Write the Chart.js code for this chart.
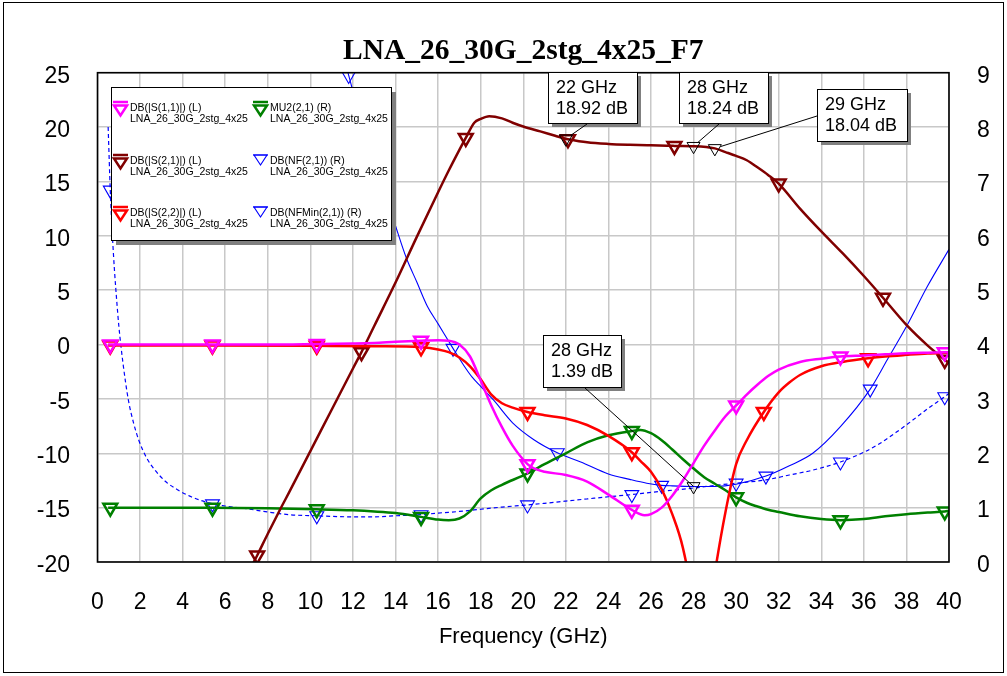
<!DOCTYPE html>
<html>
<head>
<meta charset="utf-8">
<script src="https://cdn.jsdelivr.net/npm/chart.js@4.4.1/dist/chart.umd.min.js"></script>
<style>
  html, body { margin: 0; padding: 0; background: #ffffff; }
  canvas { display: block; }
</style>
</head>
<body>
<canvas id="chart" width="1007" height="676"></canvas>
<script>
// ---- measured traces (frequency in GHz) ----
const freqS11 = [0.5,0.6,2,4,5.4,8,10.3,12,13,14,15.2,16,16.5,17,17.5,18,18.5,19,19.5,20.2,20.5,21,22,23,24,25.1,25.7,26,26.5,27,27.5,28,28.5,29,29.5,30,30.5,31,31.5,32,33,34,34.9,36,37,38,39,39.8,40];
const dbS11   = [0,0,0,0,0,0,0.05,0.1,0.15,0.25,0.35,0.4,0.35,0,-1.1,-3.3,-5.6,-7.6,-9.3,-11.0,-11.4,-11.7,-12.0,-12.6,-13.8,-15.2,-15.7,-15.6,-15.0,-13.9,-12.5,-10.9,-9.3,-7.9,-6.6,-5.6,-4.6,-3.7,-2.9,-2.3,-1.6,-1.3,-1.1,-1.0,-0.9,-0.8,-0.75,-0.72,-0.7];
const markS11 = [0.6,5.4,10.3,15.2,20.2,25.1,30,34.9,39.8];

const freqS21 = [7,7.5,8,8.65,9,10,11,12,12.4,13,14,15,16,16.5,17,17.3,17.7,18,18.4,19,19.5,20,20.8,21.5,22,22.1,23,24,25,26,27,27.1,28,29,29.5,30,30.5,31,31.5,32,33,34,35,36,36.9,38,39,39.8,40];
const dbS21   = [-21.3,-19.4,-17.4,-14.9,-13.6,-9.8,-6.0,-2.2,-0.7,1.7,5.7,9.9,14.0,16.0,17.9,19.0,20.4,20.75,21.0,20.8,20.4,20.05,19.6,19.2,18.92,18.88,18.6,18.45,18.37,18.32,18.28,18.27,18.24,18.04,17.7,17.35,16.95,16.3,15.6,14.8,12.5,10.4,8.4,6.3,4.3,1.8,-0.1,-1.4,-1.7];
const markS21 = [7.5,12.4,17.3,22.1,27.1,32,36.9,39.8];

const freqS22 = [0.5,0.6,5.4,10.3,13,15.2,16,16.5,17,17.5,18,18.5,19,19.5,20.2,21,22,23,24,25.1,25.5,26,26.5,27,27.5,28,28.35,28.7,29,29.5,30,30.5,31.3,32,32.5,33,34,35,36.2,37,38,39,40];
const dbS22   = [-0.1,-0.1,-0.1,-0.12,-0.15,-0.25,-0.45,-0.7,-1.2,-2.0,-3.2,-4.6,-5.4,-5.8,-6.2,-6.5,-6.8,-7.4,-8.4,-9.9,-10.7,-11.7,-13.3,-15.6,-18.7,-24,-30,-25,-21,-15.4,-11.0,-8.8,-6.2,-4.4,-3.5,-2.8,-2.0,-1.6,-1.27,-1.1,-0.95,-0.82,-0.75];
const markS22 = [0.6,5.4,10.3,15.2,20.2,25.1,31.3,36.2];

const freqMu = [0.5,0.6,5.4,8,10.3,12,13,14,15.2,16,16.5,17,17.5,18,18.5,19,20.2,21,22,23,24,25.1,25.5,26,26.5,27,27.5,28,28.5,29,29.5,30,30.5,31,31.5,32,33,34,34.9,36,37,38,39,39.8,40];
const valMu  = [1.0,1.0,1.0,0.99,0.97,0.95,0.93,0.9,0.83,0.78,0.77,0.8,0.93,1.17,1.32,1.42,1.63,1.8,2.0,2.2,2.33,2.41,2.43,2.37,2.24,2.07,1.89,1.72,1.56,1.44,1.32,1.19,1.09,1.02,0.96,0.92,0.84,0.79,0.77,0.79,0.84,0.88,0.91,0.93,0.94];
const markMu = [0.6,5.4,10.3,15.2,20.2,25.1,30,34.9,39.8];

const freqNf = [11,11.5,11.8,12.2,12.6,13,13.5,13.9,14.5,15,15.5,16,16.7,17.2,17.6,18,18.6,19.5,20.5,21.6,22.7,24,25,25.8,26.5,27,28,29,30,31.4,32.5,33.6,34.9,36.3,37.1,38,39,40];
const valNf  = [9.9,9.35,8.95,8.35,7.75,7.25,6.75,6.3,5.6,5.15,4.7,4.38,3.93,3.62,3.4,3.23,2.98,2.56,2.25,2.01,1.84,1.62,1.52,1.45,1.41,1.40,1.39,1.39,1.43,1.58,1.77,2.0,2.49,3.18,3.72,4.33,5.08,5.75];
const markNf = [11.8,16.7,21.6,26.5,31.4,36.3];

const freqNfMin = [0.5,0.6,0.7,0.8,0.9,1.0,1.2,1.45,1.7,1.94,2.3,2.7,3.2,3.8,4.4,5.4,6,7,8,9,10.3,12,13,14,15.2,16,17,18,19,20.2,21,22,23,24,25.1,26,27,28,29,30,31.4,32.5,33.6,34.9,36,36.75,37.5,38.3,39,39.8,40];
const valNfMin  = [8.0,6.84,6.0,5.35,4.82,4.35,3.65,2.98,2.55,2.24,1.92,1.69,1.48,1.32,1.2,1.07,1.03,0.98,0.92,0.87,0.85,0.83,0.83,0.85,0.87,0.9,0.93,0.97,1.01,1.05,1.08,1.12,1.16,1.2,1.24,1.28,1.32,1.36,1.41,1.45,1.51,1.6,1.69,1.84,2.02,2.18,2.38,2.61,2.82,3.04,3.1];
const markNfMin = [0.6,5.4,10.3,15.2,20.2,25.1,30,34.9,39.8];

// marker readouts
const s21ReadFreq = [22, 28, 29];
const s21ReadDb   = [18.92, 18.24, 18.04];
const nfReadFreq  = [28];
const nfReadDb    = [1.39];

// axes
const freqTicks = { min: 0, max: 40, step: 2 };
const leftTicks = { min: -20, max: 25, step: 5 };
const rightTicks = { min: 0, max: 9, step: 1 };

const chartTitle = 'LNA_26_30G_2stg_4x25_F7';
const xTitle = 'Frequency (GHz)';
const circuitName = 'LNA_26_30G_2stg_4x25';

Chart.defaults.font.family = "'Liberation Sans', Arial, sans-serif";
Chart.defaults.color = '#000000';

function toPoints(fs, vs) { return fs.map((f, i) => ({ x: f, y: vs[i] })); }

function trace(label, fs, vs, marks, color, width, axis, dash, markWidth) {
  return {
    label: label,
    data: toPoints(fs, vs),
    yAxisID: axis,
    borderColor: color,
    borderWidth: width,
    borderDash: dash,
    cubicInterpolationMode: 'monotone',
    fill: false,
    clip: 0,
    pointStyle: 'triangle',
    rotation: 180,
    pointRadius: (c) => (c.raw && marks.includes(c.raw.x)) ? 8 : 0,
    pointBorderColor: color,
    pointBackgroundColor: 'rgba(0,0,0,0)',
    pointBorderWidth: markWidth,
    legendWidth: width,
    legendMarkWidth: markWidth
  };
}

function readout(fs, vs, axis) {
  return {
    label: 'readout',
    data: toPoints(fs, vs),
    yAxisID: axis,
    showLine: false,
    clip: 0,
    pointStyle: 'triangle',
    rotation: 180,
    pointRadius: 7.5,
    pointBorderColor: '#000000',
    pointBackgroundColor: 'rgba(0,0,0,0)',
    pointBorderWidth: 1
  };
}

const dsS11 = trace('DB(|S(1,1)|) (L)', freqS11, dbS11, markS11, '#ff00ff', 2.5, 'yL', [], 2.5);
const dsS21 = trace('DB(|S(2,1)|) (L)', freqS21, dbS21, markS21, '#800000', 2.5, 'yL', [], 2.5);
const dsS22 = trace('DB(|S(2,2)|) (L)', freqS22, dbS22, markS22, '#ff0000', 2.5, 'yL', [], 2.5);
const dsMu  = trace('MU2(2,1) (R)', freqMu, valMu, markMu, '#008000', 2.5, 'yR', [], 2.5);
const dsNf  = trace('DB(NF(2,1)) (R)', freqNf, valNf, markNf, '#0000ff', 1.1, 'yR', [], 1.1);
const dsNfMin = trace('DB(NFMin(2,1)) (R)', freqNfMin, valNfMin, markNfMin, '#0000ff', 1.2, 'yR', [4, 3], 1.1);

const legendOrder = [dsS11, dsS21, dsS22, dsMu, dsNf, dsNfMin];

function drawBoxWithShadow(ctx, x, y, w, h, sh) {
  ctx.fillStyle = '#808080';
  ctx.fillRect(x + sh, y + sh, w, h);
  ctx.fillStyle = '#ffffff';
  ctx.fillRect(x, y, w, h);
  ctx.strokeStyle = '#000000';
  ctx.lineWidth = 1;
  ctx.strokeRect(x + 0.5, y + 0.5, w, h);
}

function drawDownTriangle(ctx, cx, top, w, h) {
  ctx.beginPath();
  ctx.moveTo(cx - w / 2, top);
  ctx.lineTo(cx + w / 2, top);
  ctx.lineTo(cx, top + h);
  ctx.closePath();
  ctx.stroke();
}

const decorations = {
  id: 'decorations',
  afterDraw(chart) {
    const ctx = chart.ctx;
    const a = chart.chartArea;
    const sx = chart.scales.x, yL = chart.scales.yL, yR = chart.scales.yR;
    ctx.save();

    // plot frame
    ctx.strokeStyle = '#000000';
    ctx.lineWidth = 1.6;
    ctx.strokeRect(a.left, a.top, a.right - a.left, a.bottom - a.top);

    // title
    ctx.fillStyle = '#000000';
    ctx.font = "bold 29.5px 'Liberation Serif', 'Times New Roman', serif";
    ctx.textAlign = 'center';
    ctx.textBaseline = 'alphabetic';
    ctx.fillText(chartTitle, (a.left + a.right) / 2, 59);

    // legend panel
    drawBoxWithShadow(ctx, 111, 87, 280, 153, 5);
    const colIcon = [120.5, 260.5];
    const colText = [130, 270];
    const rowTop = [102, 155, 207];
    ctx.font = "10.5px 'Liberation Sans', Arial, sans-serif";
    ctx.textAlign = 'left';
    ctx.textBaseline = 'middle';
    legendOrder.forEach((ds, i) => {
      const col = Math.floor(i / 3), row = i % 3;
      const cx = colIcon[col], top = rowTop[row];
      ctx.strokeStyle = ds.borderColor;
      ctx.lineWidth = ds.legendWidth;
      ctx.beginPath();
      ctx.moveTo(cx - 7.5, top);
      ctx.lineTo(cx + 7.5, top);
      ctx.stroke();
      ctx.lineWidth = ds.legendMarkWidth;
      drawDownTriangle(ctx, cx, top + (ds.legendWidth > 2 ? 3.5 : 0), 13, 10);
      ctx.fillStyle = '#000000';
      ctx.fillText(ds.label, colText[col], top + 6);
      ctx.fillText(circuitName, colText[col], top + 17.5);
    });

    // marker readout callouts
    const boxes = [
      { x: 548, y: 72, w: 89, h: 51, ax: 587, ay: 124, gap: 6, axis: 'L', i: 0 },
      { x: 679, y: 72, w: 89, h: 51, ax: 719, ay: 124, gap: 6, axis: 'L', i: 1 },
      { x: 817, y: 89, w: 90, h: 52, ax: 817, ay: 116, gap: 6, axis: 'L', i: 2 },
      { x: 543, y: 335, w: 78, h: 52, ax: 585, ay: 388, gap: 0, axis: 'R', i: 0 }
    ];
    boxes.forEach(b => {
      const f = b.axis === 'L' ? s21ReadFreq[b.i] : nfReadFreq[b.i];
      const v = b.axis === 'L' ? s21ReadDb[b.i] : nfReadDb[b.i];
      const px = sx.getPixelForValue(f);
      const py = (b.axis === 'L' ? yL : yR).getPixelForValue(v);
      drawBoxWithShadow(ctx, b.x, b.y, b.w, b.h, 4);
      const dx = b.ax - px, dy = b.ay - py, d = Math.hypot(dx, dy);
      ctx.strokeStyle = '#000000';
      ctx.lineWidth = 1;
      ctx.beginPath();
      ctx.moveTo(b.ax, b.ay);
      ctx.lineTo(px + dx / d * b.gap, py + dy / d * b.gap);
      ctx.stroke();
      ctx.fillStyle = '#000000';
      ctx.font = "18px 'Liberation Sans', Arial, sans-serif";
      ctx.textAlign = 'left';
      ctx.textBaseline = 'middle';
      ctx.fillText(f + ' GHz', b.x + 8, b.y + 16);
      ctx.fillText(v.toFixed(2) + ' dB', b.x + 8, b.y + 37);
    });

    // outer frame
    ctx.strokeStyle = '#000000';
    ctx.lineWidth = 1;
    ctx.strokeRect(3.5, 2.5, 1000, 670);
    ctx.restore();
  }
};

new Chart(document.getElementById('chart'), {
  type: 'line',
  data: {
    datasets: [
      readout(s21ReadFreq, s21ReadDb, 'yL'),
      readout(nfReadFreq, nfReadDb, 'yR'),
      dsS11, dsS22, dsS21, dsMu, dsNf, dsNfMin
    ]
  },
  options: {
    responsive: false,
    devicePixelRatio: 1,
    animation: false,
    events: [],
    layout: { padding: { top: 72.7, left: 0, right: 0, bottom: 0 } },
    plugins: { legend: { display: false }, tooltip: { enabled: false }, title: { display: false } },
    scales: {
      x: {
        type: 'linear',
        position: 'bottom',
        min: freqTicks.min, max: freqTicks.max,
        ticks: { stepSize: freqTicks.step, font: { size: 23 }, color: '#000', padding: 27, maxRotation: 0, autoSkip: false },
        grid: { color: '#c8c8c8', lineWidth: 1.5, drawTicks: false },
        border: { display: false },
        title: { display: true, text: xTitle, font: { size: 22 }, color: '#000', padding: { top: 0, bottom: 26 } },
        afterFit: (s) => { s.height = 114; }
      },
      yL: {
        type: 'linear',
        position: 'left',
        min: leftTicks.min, max: leftTicks.max,
        ticks: { stepSize: leftTicks.step, font: { size: 23 }, color: '#000', padding: 27.5, labelOffset: 3.5 },
        grid: { color: '#c8c8c8', lineWidth: 1.5, drawTicks: false },
        border: { display: false },
        afterFit: (s) => { s.width = 97.5; }
      },
      yR: {
        type: 'linear',
        position: 'right',
        min: rightTicks.min, max: rightTicks.max,
        ticks: { stepSize: rightTicks.step, font: { size: 23 }, color: '#000', padding: 28, labelOffset: 3.5 },
        grid: { drawOnChartArea: false, drawTicks: false },
        border: { display: false },
        afterFit: (s) => { s.width = 58; }
      }
    }
  },
  plugins: [decorations]
});
</script>
</body>
</html>
